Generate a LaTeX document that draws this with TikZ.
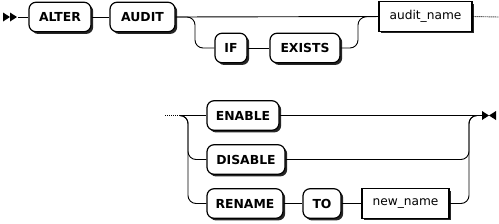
\documentclass[tikz,border=0pt]{standalone}
\usepackage{fontspec}
\setmainfont{DejaVu Sans}
\usetikzlibrary{shadows,calc}
\begin{document}
\begin{tikzpicture}[x=1pt,y=-1pt,
  base/.style={draw, line width=1.2pt, fill=white, minimum height=29.5pt, inner sep=0pt,
    drop shadow={shadow xshift=2.2pt, shadow yshift=-2.2pt, fill=black!85, opacity=1}},
  kw/.style={base, rounded corners=7pt, font=\bfseries\fontsize{12.4}{14}\selectfont},
  nt/.style={base, font=\fontsize{12.2}{14}\selectfont},
  conn/.style={line width=0.9pt, rounded corners=8pt},
  dots/.style={line width=0.9pt, dash pattern=on 1pt off 1pt},
  tipmark/.style={fill=black, draw=none}]
\useasboundingbox (0,0) rectangle (499,223);
% row 1
\node[kw, minimum width=62pt] (alter) at (60,17) {ALTER};
\node[kw, minimum width=65pt] (audit) at (142.5,17) {AUDIT};
\node[kw, minimum width=32pt] (if) at (231,48) {IF};
\node[kw, minimum width=70pt] (exists) at (305,48) {EXISTS};
\node[nt, minimum width=93pt] (aname) at (425.5,16.5) {audit\_name};
\coordinate (st) at (18,17);
\coordinate (b1) at (195,17);
\coordinate (b2) at (358,17);
\coordinate (e1) at (499,17);
\fill[tipmark] (3,12.5) -- (10,17) -- (3,21.5) -- cycle;
\fill[tipmark] (10,12.5) -- (17,17) -- (10,21.5) -- cycle;
\draw[conn] (st) -- (alter.west);
\draw[conn] (alter.east) -- (audit.west);
\draw[conn] (audit.east) -- (aname.west);
\draw[conn] (audit.east) -| (b1 |- if.west) -- (if.west);
\draw[conn] (if.east) -- (exists.west);
\draw[conn] (exists.east) -| (b2) -- (aname.west);
\draw[dots] (aname.east) -- (e1);
% row 2
\node[kw, minimum width=72pt] (enable) at (243,115.5) {ENABLE};
\node[kw, minimum width=78pt] (disable) at (246,159.5) {DISABLE};
\node[kw, minimum width=76pt] (rename) at (245,203.5) {RENAME};
\node[kw, minimum width=38pt] (to) at (322,203.5) {TO};
\node[nt, minimum width=87pt] (nname) at (405.5,203.5) {new\_name};
\coordinate (d0) at (165,115.5);
\coordinate (d1) at (179,115.5);
\coordinate (b3) at (188,115.5);
\coordinate (b4) at (469,115.5);
\coordinate (en) at (482,115.5);
\draw[dots] (d0) -- (d1);
\draw[conn] (d1) -- (enable.west);
\draw[conn] (d1) -| (b3 |- disable.west) -- (disable.west);
\draw[conn] (d1) -| (b3 |- rename.west) -- (rename.west);
\draw[conn] (rename.east) -- (to.west);
\draw[conn] (to.east) -- (nname.west);
\draw[conn] (enable.east) -- (en);
\draw[conn] (disable.east) -| (b4) -- (en);
\draw[conn] (nname.east) -| (b4) -- (en);
\fill[tipmark] (482,111) -- (489,115.5) -- (482,120) -- cycle;
\fill[tipmark] (496,111) -- (489,115.5) -- (496,120) -- cycle;
\end{tikzpicture}
\end{document}
